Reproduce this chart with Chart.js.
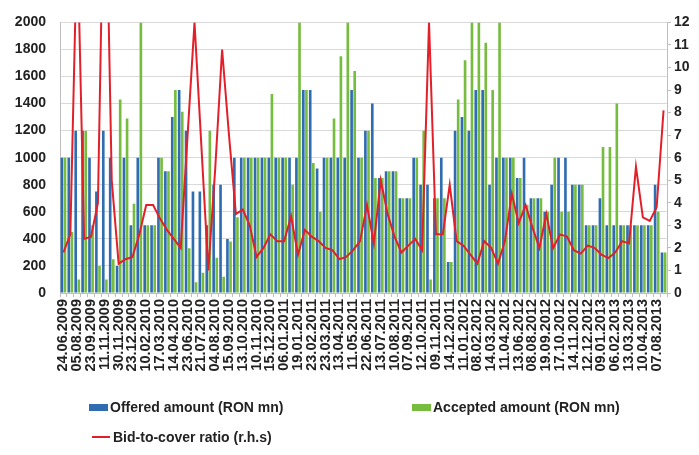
<!DOCTYPE html>
<html>
<head>
<meta charset="utf-8">
<script src="https://cdn.jsdelivr.net/npm/chart.js@4/dist/chart.umd.min.js"></script>
<style>
  html, body { margin: 0; padding: 0; background: #fff; }
  #wrap { position: relative; width: 699px; height: 455px; }
  #legenda { position: absolute; left: 0; top: 0; width: 699px; height: 455px; pointer-events: none;
    font-family: "Liberation Sans", Arial, sans-serif; font-weight: bold; font-size: 14px; color: #222; }
  .item { position: absolute; display: flex; align-items: center; white-space: nowrap; }
  .box { width: 19px; height: 7px; margin-right: 2px; }
  .linha { width: 18px; height: 2px; margin-right: 3px; background: #e3202a; }
</style>
</head>
<body>
<div id="wrap">
  <canvas id="grafico" width="699" height="455"></canvas>
  <div id="legenda">
    <div class="item" style="left:89px; top:399px;"><span class="box" style="background:#2f6db0"></span>Offered amount (RON mn)</div>
    <div class="item" style="left:412px; top:399px;"><span class="box" style="background:#76bd3f"></span>Accepted amount (RON mn)</div>
    <div class="item" style="left:92px; top:429px;"><span class="linha"></span>Bid-to-cover ratio (r.h.s)</div>
  </div>
</div>
<script>
// auction dates shown on the axis (every second auction is labelled)
const datas = ["24.06.2009","05.08.2009","23.09.2009","11.11.2009","30.11.2009","23.12.2009",
  "10.02.2010","17.03.2010","14.04.2010","23.06.2010","21.07.2010","04.08.2010","15.09.2010","13.10.2010","10.11.2010","15.12.2010",
  "06.01.2011","19.01.2011","23.02.2011","23.03.2011","13.04.2011","11.05.2011","22.06.2011","13.07.2011","10.08.2011","07.09.2011","12.10.2011","09.11.2011","14.12.2011",
  "11.01.2012","08.02.2012","14.03.2012","11.04.2012","13.06.2012","08.08.2012","19.09.2012","17.10.2012","14.11.2012","12.12.2012",
  "09.01.2013","06.02.2013","13.03.2013","10.04.2013","07.08.2013"];

const ofertado = [1000,1000,1200,1200,1000,750,1200,1000,200,1000,
  500,1000,500,500,1000,900,1300,1500,1200,750,
  750,500,800,800,400,1000,1000,1000,1000,1000,
  1000,1000,1000,1000,1000,1500,1500,920,1000,1000,
  1000,1000,1500,1000,1200,1400,850,900,900,700,
  700,1000,800,800,700,1000,230,1200,1300,1200,
  1500,1500,800,1000,1000,1000,850,1000,700,700,
  600,800,1000,1000,800,800,500,500,700,500,
  500,500,500,500,500,500,800,300];

const aceito = [1000,450,100,1200,500,200,100,250,1430,1290,
  660,2000,500,500,1000,900,1500,1340,330,80,
  150,1200,260,120,380,560,1000,1000,1000,1000,
  1470,1000,1000,800,2000,1500,960,600,1000,1290,
  1750,2000,1640,1000,1200,850,850,900,900,700,
  700,1000,1200,100,700,700,230,1430,1720,2000,
  2000,1850,1500,2000,1000,1000,850,650,700,700,
  600,1000,600,600,800,800,500,500,1080,1080,
  1400,500,500,500,500,500,600,300];

const bidCover = [1.8,2.6,16,2.4,2.5,4,21,5,1.3,1.5,
  1.6,2.6,3.9,3.9,3.3,2.8,2.4,2.0,7,12,
  6.5,1.0,5.5,10.8,7,3.5,3.7,3.0,1.6,2.0,
  2.6,2.3,2.3,3.4,1.7,2.8,2.5,2.3,2.0,1.9,
  1.5,1.6,1.9,2.3,3.9,2.2,5.0,3.5,2.5,1.8,
  2.1,2.4,1.9,12,2.6,2.6,4.8,2.3,2.1,1.7,
  1.3,2.3,2.0,1.3,2.3,4.4,3.1,3.9,2.9,2.0,
  3.5,2.0,2.6,2.5,1.9,1.75,2.1,2.0,1.7,1.55,
  1.8,2.3,2.2,5.6,3.35,3.2,3.8,8.1];

document.addEventListener("DOMContentLoaded", () => {
  const cores = { ofertado: "#2f6db0", aceito: "#76bd3f", ratio: "#e3202a", grade: "#d9d9d9", texto: "#222" };
  const fonte = "'Liberation Sans', Arial, sans-serif";

  // one category per auction, date only on every other one
  const categorias = ofertado.map((_, i) => (i % 2 === 0 ? (datas[i / 2] || "") : ""));

  new Chart(document.getElementById("grafico"), {
    data: {
      labels: categorias,
      datasets: [
        { type: "line", label: "Bid-to-cover ratio (r.h.s)", data: bidCover, yAxisID: "y1",
          borderColor: cores.ratio, borderWidth: 2, pointRadius: 0, tension: 0, order: 0 },
        { type: "bar", label: "Offered amount (RON mn)", data: ofertado, yAxisID: "y",
          backgroundColor: cores.ofertado, categoryPercentage: 0.9, barPercentage: 0.85, order: 1 },
        { type: "bar", label: "Accepted amount (RON mn)", data: aceito, yAxisID: "y",
          backgroundColor: cores.aceito, categoryPercentage: 0.9, barPercentage: 0.85, order: 1 }
      ]
    },
    options: {
      responsive: false,
      animation: false,
      layout: { padding: { top: 17, bottom: 82, left: 0, right: 0 } },
      plugins: { legend: { display: false }, tooltip: { enabled: false } },
      scales: {
        x: {
          grid: { display: true, drawOnChartArea: false, tickLength: 4, color: "#bfbfbf" },
          border: { color: "#bfbfbf" },
          ticks: { autoSkip: false, minRotation: 90, maxRotation: 90, padding: 2,
            color: cores.texto, font: { family: fonte, size: 14.5, weight: "bold" } },
          afterFit: s => { s.height = 80; }
        },
        y: {
          position: "left", min: 0, max: 2000,
          grid: { color: cores.grade, drawTicks: false },
          border: { color: "#bfbfbf" },
          ticks: { stepSize: 200, padding: 14, color: cores.texto, callback: v => String(v),
            font: { family: fonte, size: 14, weight: "bold" } },
          afterFit: s => { s.width = 60; }
        },
        y1: {
          position: "right", min: 0, max: 12,
          grid: { drawOnChartArea: false, tickLength: 4, color: "#bfbfbf" },
          border: { color: "#bfbfbf" },
          ticks: { stepSize: 1, padding: 3, color: cores.texto, callback: v => String(v),
            font: { family: fonte, size: 14, weight: "bold" } },
          afterFit: s => { s.width = 32; }
        }
      }
    }
  });
});
</script>
</body>
</html>
